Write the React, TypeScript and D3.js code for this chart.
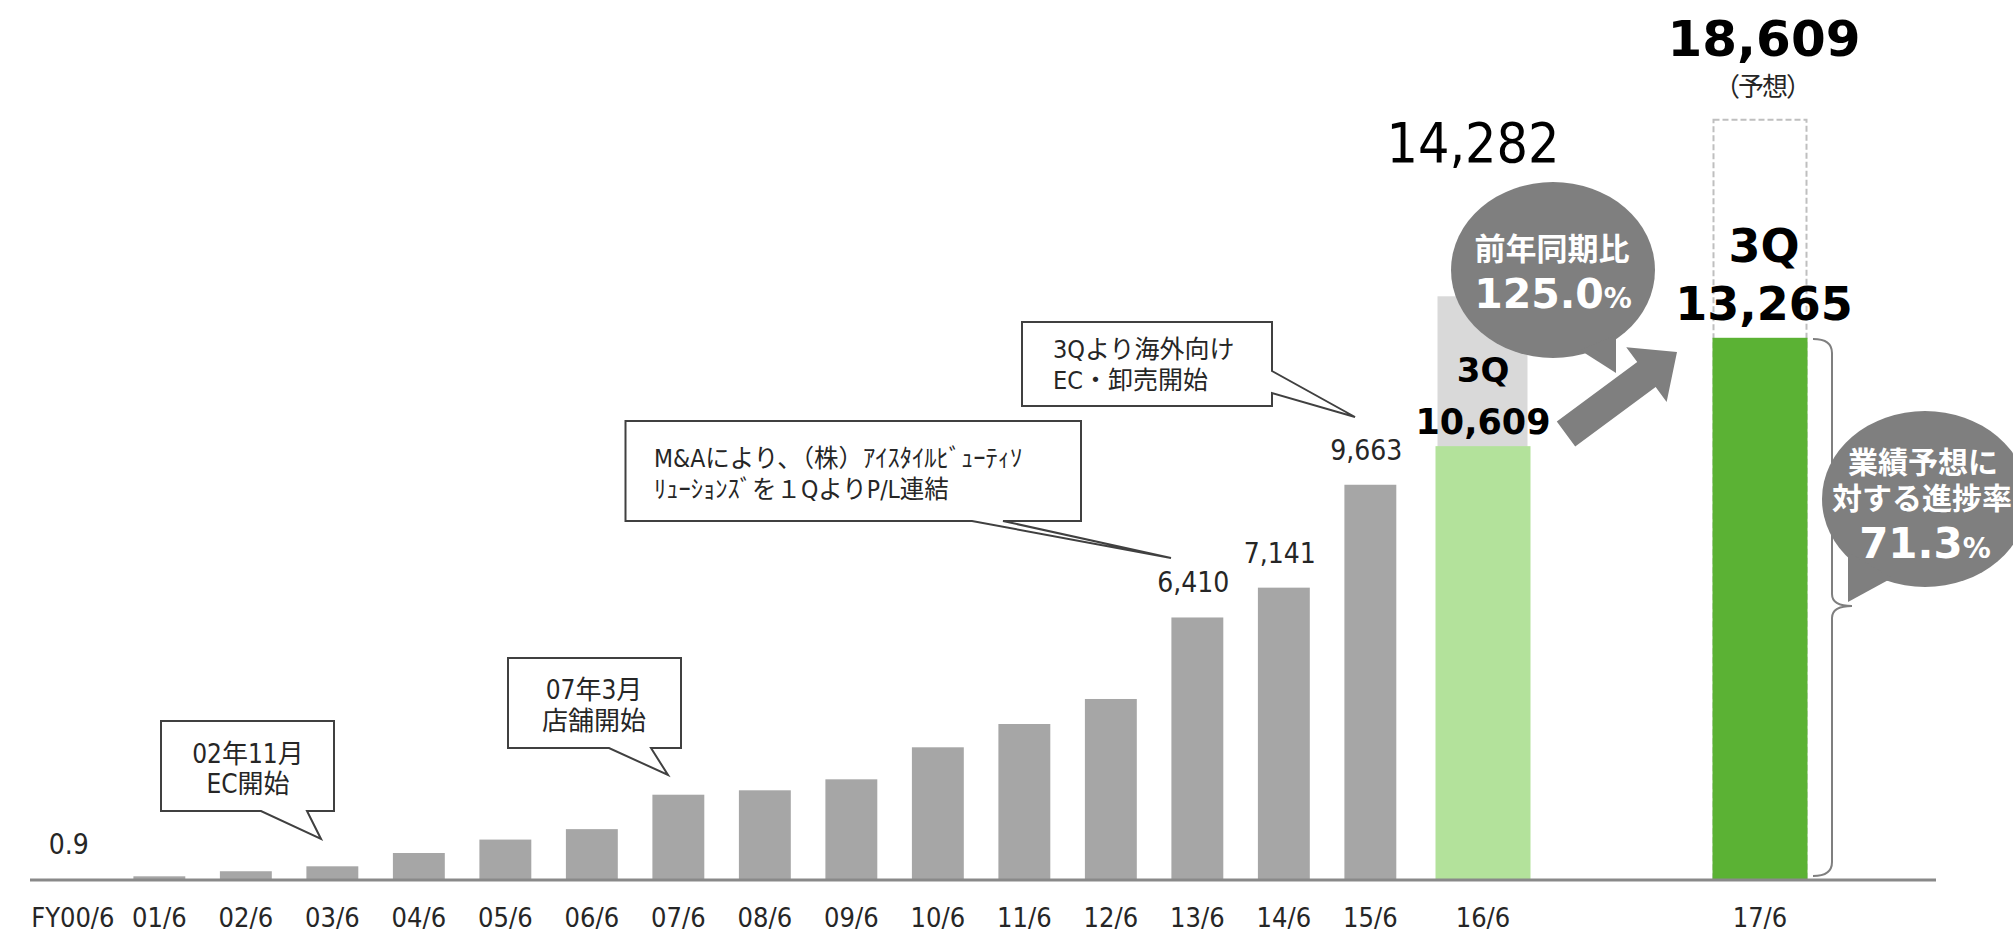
import React from 'react';
import * as d3 from 'd3';

// net sales by fiscal year (百万円)
const categories = [
  'FY00/6', '01/6', '02/6', '03/6', '04/6', '05/6', '06/6', '07/6',
  '08/6', '09/6', '10/6', '11/6', '12/6', '13/6', '14/6', '15/6',
];
const sales = [
  0.9, 66, 190, 311, 637, 966, 1222, 2066,
  2174, 2443, 3228, 3799, 4412, 6410, 7141, 9663,
];
const labeledCategories = ['FY00/6', '13/6', '14/6', '15/6'];

const recentYears = ['16/6', '17/6'];
const thirdQuarter = [10609, 13265];
const fullYear = [14282, 18609];

const calloutEC = ['02年11月', 'EC開始'];
const calloutStore = ['07年3月', '店舗開始'];
const calloutMA = ['M&Aにより、（株）ｱｲｽﾀｲﾙﾋﾞｭｰﾃｨｿ', 'ﾘｭｰｼｮﾝｽﾞを１QよりP/L連結'];
const calloutOverseas = ['3Qより海外向け', 'EC・卸売開始'];
const growthTitle = '前年同期比';
const progressTitle = ['業績予想に', '対する進捗率'];

const W = 2013;
const H = 932;
const BASE = 879;

const LATIN = "'DejaVu Sans Condensed', 'DejaVu Sans', sans-serif";
const BOLD = "'DejaVu Sans', Verdana, sans-serif";
const MIXED = "'DejaVu Sans Condensed', 'Noto Sans CJK JP', sans-serif";
const CJK = "'Noto Sans CJK JP', sans-serif";

const GREY_BAR = '#a6a6a6';
const BUBBLE = '#7f7f7f';
const INK = '#262626';

const fmt = d3.format(',');

function calloutPath(x0: number, y0: number, x1: number, y1: number, tail: [number, number][], side: 'bottom' | 'right') {
  const p = d3.path();
  p.moveTo(x0, y0);
  p.lineTo(x1, y0);
  if (side === 'right') {
    p.lineTo(x1, tail[0][1]);
    p.lineTo(tail[2][0], tail[2][1]);
    p.lineTo(x1, tail[1][1]);
    p.lineTo(x1, y1);
    p.lineTo(x0, y1);
  } else {
    p.lineTo(x1, y1);
    p.lineTo(tail[1][0], y1);
    p.lineTo(tail[2][0], tail[2][1]);
    p.lineTo(tail[0][0], y1);
    p.lineTo(x0, y1);
  }
  p.closePath();
  return p.toString();
}

export default function App() {
  const x = d3.scaleBand<string>()
    .domain(categories)
    .range([29.6, 29.6 + 86.5 * categories.length])
    .paddingInner(0.4)
    .paddingOuter(0.2);

  const xr = d3.scalePoint<string>().domain(recentYears).range([1483, 1760]);
  const rw = 95;

  const y = d3.scaleLinear().domain([0, 18609]).range([BASE, BASE - 18609 * 0.0408]);

  // arrow between 16/6 and 17/6
  const tail = [1566, 434];
  const tip = [1677, 352];
  const len = Math.hypot(tip[0] - tail[0], tip[1] - tail[1]);
  const u = [(tip[0] - tail[0]) / len, (tip[1] - tail[1]) / len];
  const n = [-u[1], u[0]];
  const hl = 38, hs = 15.5, hh = 34;
  const b = [tip[0] - u[0] * hl, tip[1] - u[1] * hl];
  const arrowPts = [
    [tail[0] + n[0] * hs, tail[1] + n[1] * hs],
    [b[0] + n[0] * hs, b[1] + n[1] * hs],
    [b[0] + n[0] * hh, b[1] + n[1] * hh],
    tip,
    [b[0] - n[0] * hh, b[1] - n[1] * hh],
    [b[0] - n[0] * hs, b[1] - n[1] * hs],
    [tail[0] - n[0] * hs, tail[1] - n[1] * hs],
  ];

  const growth = d3.format('.1f')((thirdQuarter[1] / thirdQuarter[0]) * 100);
  const progress = d3.format('.1f')((thirdQuarter[1] / fullYear[1]) * 100);

  const cx16 = xr('16/6') as number;
  const cx17 = xr('17/6') as number;

  return (
    <svg width={W} height={H} style={{ position: 'absolute', left: 0, top: 0, background: '#fff' }}>
      {/* historic bars */}
      {categories.map((c, i) => (
        <rect key={c} x={x(c)} y={y(sales[i])} width={x.bandwidth()} height={BASE - y(sales[i])} fill={GREY_BAR} />
      ))}
      {categories.map((c, i) =>
        labeledCategories.includes(c) ? (
          <text key={c} x={(x(c) as number) + x.bandwidth() / 2 - 4} y={y(sales[i]) - 25}
            textAnchor="middle" fontFamily={LATIN} fontSize={28} fill={INK}>{fmt(sales[i])}</text>
        ) : null
      )}

      {/* 16/6: full year (grey) with 3Q (light green) */}
      <rect x={cx16 - rw / 2 + 2} y={y(fullYear[0])} width={rw - 5} height={BASE - y(fullYear[0])} fill="#d9d9d9" />
      <rect x={cx16 - rw / 2} y={y(thirdQuarter[0])} width={rw} height={BASE - y(thirdQuarter[0])} fill="#b3e29b" />
      <text x={cx16 - 10} y={162} textAnchor="middle" fontFamily={LATIN} fontSize={55} fill="#000">{fmt(fullYear[0])}</text>
      <text x={cx16} y={382} textAnchor="middle" fontFamily={BOLD} fontWeight="bold" fontSize={34} fill="#000">3Q</text>
      <text x={cx16} y={434} textAnchor="middle" fontFamily={BOLD} fontWeight="bold" fontSize={35} fill="#000">{fmt(thirdQuarter[0])}</text>

      {/* 17/6: forecast (dashed) with 3Q (green) */}
      <rect x={cx17 - rw / 2 + 1} y={y(fullYear[1])} width={rw - 2} height={BASE - y(fullYear[1])}
        fill="none" stroke="#bfbfbf" strokeWidth={2} strokeDasharray="6 3" />
      <rect x={cx17 - rw / 2} y={y(thirdQuarter[1])} width={rw} height={BASE - y(thirdQuarter[1])} fill="#5bb234" />
      <text x={cx17 + 4} y={56} textAnchor="middle" fontFamily={BOLD} fontWeight="bold" fontSize={50} fill="#000">{fmt(fullYear[1])}</text>
      <text x={cx17 + 2} y={96} textAnchor="middle" fontFamily={CJK} fontSize={26} letterSpacing={-2} fill={INK}>（予想）</text>
      <text x={cx17 + 4} y={262} textAnchor="middle" fontFamily={BOLD} fontWeight="bold" fontSize={46} fill="#000">3Q</text>
      <text x={cx17 + 4} y={320} textAnchor="middle" fontFamily={BOLD} fontWeight="bold" fontSize={46} fill="#000">{fmt(thirdQuarter[1])}</text>

      {/* axis */}
      <line x1={30} x2={1936} y1={BASE + 1} y2={BASE + 1} stroke="#898989" strokeWidth={3} />
      {categories.map((c) => (
        <text key={c} x={(x(c) as number) + x.bandwidth() / 2} y={927} textAnchor="middle"
          fontFamily={LATIN} fontSize={27} fill={INK}>{c}</text>
      ))}
      {recentYears.map((c) => (
        <text key={c} x={xr(c)} y={927} textAnchor="middle" fontFamily={LATIN} fontSize={27} fill={INK}>{c}</text>
      ))}

      {/* arrow */}
      <polygon points={arrowPts.map((p) => p.join(',')).join(' ')} fill={BUBBLE} />

      {/* growth bubble */}
      <ellipse cx={1553} cy={270} rx={102} ry={88} fill={BUBBLE} />
      <polygon points="1580,350 1616,335 1616,373" fill={BUBBLE} />
      <text x={1552} y={260} textAnchor="middle" fontFamily={CJK} fontWeight="bold" fontSize={31} fill="#fff">{growthTitle}</text>
      <text x={1553} y={308} textAnchor="middle" fontFamily={BOLD} fontWeight="bold" fill="#fff">
        <tspan fontSize={41}>{growth}</tspan><tspan fontSize={28}>%</tspan>
      </text>

      {/* brace */}
      <path d="M1813,339 Q1832,339 1832,353 L1832,594 Q1832,606 1852,606 Q1832,606 1832,618 L1832,862 Q1832,876 1813,876"
        fill="none" stroke={BUBBLE} strokeWidth={2} />

      {/* progress bubble */}
      <ellipse cx={1925} cy={499} rx={103} ry={88} fill={BUBBLE} />
      <polygon points="1848,552 1892,578 1848,602" fill={BUBBLE} />
      <text x={1923} y={473} textAnchor="middle" fontFamily={CJK} fontWeight="bold" fontSize={30} fill="#fff">{progressTitle[0]}</text>
      <text x={1922} y={509} textAnchor="middle" fontFamily={CJK} fontWeight="bold" fontSize={30} fill="#fff">{progressTitle[1]}</text>
      <text x={1925} y={558} textAnchor="middle" fontFamily={BOLD} fontWeight="bold" fill="#fff">
        <tspan fontSize={42}>{progress}</tspan><tspan fontSize={28}>%</tspan>
      </text>

      {/* callouts */}
      <path d={calloutPath(161, 721, 334, 811, [[261, 0], [307, 0], [321, 839]], 'bottom')}
        fill="#fff" stroke="#404040" strokeWidth={2} />
      {calloutEC.map((t, i) => (
        <text key={t} x={248} y={763 + i * 30} textAnchor="middle" fontFamily={MIXED} fontSize={26} fill={INK}>{t}</text>
      ))}

      <path d={calloutPath(508, 658, 681, 748, [[609, 0], [651, 0], [668, 775]], 'bottom')}
        fill="#fff" stroke="#404040" strokeWidth={2} />
      {calloutStore.map((t, i) => (
        <text key={t} x={594} y={699 + i * 31} textAnchor="middle" fontFamily={MIXED} fontSize={26} fill={INK}>{t}</text>
      ))}

      <path d={calloutPath(625.5, 421, 1081, 521, [[972, 0], [1003, 0], [1171, 558]], 'bottom')}
        fill="#fff" stroke="#404040" strokeWidth={2} />
      {calloutMA.map((t, i) => (
        <text key={t} x={654} y={467 + i * 31} fontFamily={MIXED} fontSize={24.5} fill={INK}>{t}</text>
      ))}

      <path d={calloutPath(1022, 322, 1272, 406, [[0, 371], [0, 393], [1355, 417]], 'right')}
        fill="#fff" stroke="#404040" strokeWidth={2} />
      {calloutOverseas.map((t, i) => (
        <text key={t} x={1053} y={358 + i * 31} fontFamily={MIXED} fontSize={25} fill={INK}>{t}</text>
      ))}
    </svg>
  );
}
